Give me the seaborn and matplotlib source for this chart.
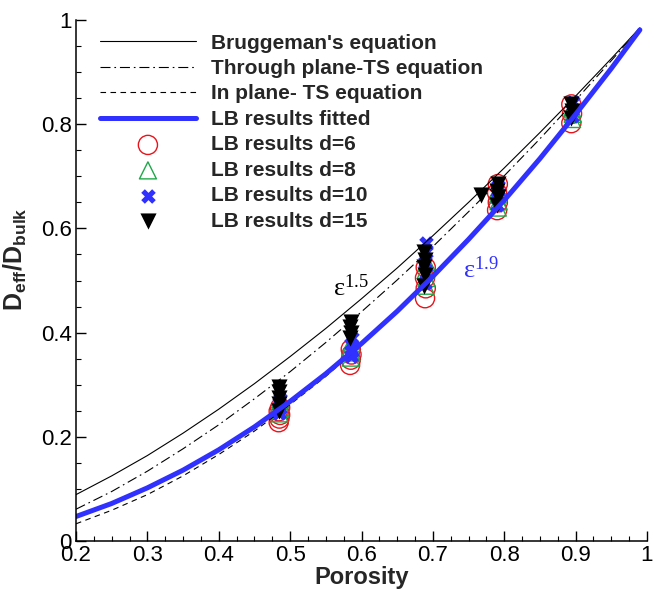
import numpy as np
import pandas as pd
import matplotlib
matplotlib.use("Agg")
import matplotlib.pyplot as plt
from matplotlib.ticker import MultipleLocator, FuncFormatter
import seaborn as sns

# DATA
porosity = [0.20, 0.25, 0.30, 0.35, 0.40, 0.45, 0.50, 0.55, 0.60,
            0.65, 0.70, 0.75, 0.80, 0.85, 0.90, 0.95, 0.99]
bruggeman = [0.089, 0.125, 0.164, 0.207, 0.253, 0.302, 0.354, 0.408, 0.465,
             0.524, 0.586, 0.650, 0.716, 0.784, 0.854, 0.926, 0.985]
through_plane = [0.061, 0.095, 0.134, 0.177, 0.223, 0.273, 0.325, 0.381, 0.440,
                 0.501, 0.565, 0.632, 0.701, 0.772, 0.846, 0.922, 0.984]
in_plane = [0.033, 0.059, 0.089, 0.125, 0.166, 0.211, 0.262, 0.316, 0.376,
            0.439, 0.507, 0.579, 0.655, 0.735, 0.820, 0.908, 0.981]
lb_fitted = [0.047, 0.072, 0.102, 0.136, 0.175, 0.219, 0.268, 0.321, 0.379,
             0.441, 0.508, 0.579, 0.654, 0.734, 0.819, 0.907, 0.981]

d6_x = [0.484, 0.485, 0.486, 0.484, 0.486,
        0.584, 0.585, 0.586, 0.585,
        0.689, 0.690, 0.689, 0.690,
        0.790, 0.791, 0.790, 0.791,
        0.894, 0.895, 0.894]
d6_y = [0.228, 0.235, 0.242, 0.249, 0.256,
        0.338, 0.348, 0.358, 0.368,
        0.466, 0.485, 0.505, 0.525,
        0.635, 0.650, 0.668, 0.685,
        0.802, 0.820, 0.838]

d8_x = [0.485, 0.486, 0.485, 0.486,
        0.585, 0.586, 0.585, 0.586,
        0.690, 0.691, 0.690, 0.691,
        0.791, 0.792, 0.791, 0.792,
        0.895, 0.896, 0.895]
d8_y = [0.245, 0.255, 0.265, 0.272,
        0.352, 0.362, 0.372, 0.380,
        0.490, 0.505, 0.520, 0.535,
        0.640, 0.652, 0.665, 0.675,
        0.810, 0.820, 0.830]

d10_x = [0.485, 0.486, 0.485, 0.486,
         0.585, 0.586, 0.585, 0.586,
         0.689, 0.690, 0.689, 0.690, 0.690,
         0.790, 0.791, 0.790, 0.791,
         0.895, 0.895, 0.896]
d10_y = [0.245, 0.255, 0.265, 0.272,
         0.355, 0.365, 0.378, 0.390,
         0.495, 0.515, 0.535, 0.555, 0.572,
         0.645, 0.660, 0.672, 0.682,
         0.815, 0.828, 0.842]

d15_x = [0.484, 0.485, 0.484, 0.485, 0.484,
         0.584, 0.585, 0.584, 0.585,
         0.688, 0.689, 0.688, 0.689, 0.688,
         0.768,
         0.790, 0.791, 0.790, 0.791,
         0.894, 0.895, 0.894]
d15_y = [0.250, 0.262, 0.274, 0.286, 0.296,
         0.390, 0.400, 0.410, 0.420,
         0.490, 0.510, 0.525, 0.540, 0.555,
         0.665,
         0.645, 0.660, 0.672, 0.685,
         0.812, 0.825, 0.838]

# STYLE
sns.set_style("ticks")
plt.rcParams["font.family"] = ["Liberation Sans", "DejaVu Sans"]
plt.rcParams["mathtext.fontset"] = "custom"
plt.rcParams["mathtext.rm"] = "Liberation Serif"
plt.rcParams["mathtext.it"] = "Liberation Serif:italic"
plt.rcParams["mathtext.bf"] = "Liberation Sans:bold"

blue = "#3030ff"

fig = plt.figure(figsize=(6.54, 5.89), dpi=100)
ax = fig.add_axes([76 / 654, 1 - 541 / 589, 571 / 654, 521 / 589])

sns.lineplot(x=porosity, y=bruggeman, color="black", lw=0.8, ax=ax,
             label="Bruggeman's equation")
sns.lineplot(x=porosity, y=through_plane, color="black", lw=0.8, ax=ax,
             linestyle=(0, (9, 3.5, 1.5, 3.5)), label="Through plane-TS equation")
sns.lineplot(x=porosity, y=in_plane, color="black", lw=0.8, ax=ax,
             linestyle=(0, (5, 4)), label="In plane- TS equation")
sns.lineplot(x=porosity, y=lb_fitted, color=blue, lw=3.6, ax=ax,
             label="LB results fitted")

sns.scatterplot(x=d6_x, y=d6_y, marker="o", s=190, facecolors="none",
                edgecolors="#e8141c", linewidth=1.0, ax=ax, label="LB results d=6")
sns.scatterplot(x=d8_x, y=d8_y, marker="^", s=150, facecolors="none",
                edgecolors="#1fa84a", linewidth=1.0, ax=ax, label="LB results d=8")
sns.scatterplot(x=d10_x, y=d10_y, marker="X", s=110, color=blue,
                linewidth=0, ax=ax, label="LB results d=10")
sns.scatterplot(x=d15_x, y=d15_y, marker="v", s=135, color="black",
                linewidth=0, ax=ax, label="LB results d=15")

ax.text(0.585, 0.486, r"$\mathrm{\varepsilon}^{\mathrm{1.5}}$", color="black",
        fontsize=19, ha="center", va="center")
ax.text(0.767, 0.52, r"$\mathrm{\varepsilon}^{\mathrm{1.9}}$", color=blue,
        fontsize=19, ha="center", va="center")

ax.set_xlim(0.2, 1.0)
ax.set_ylim(0, 1.0)
ax.xaxis.set_major_locator(MultipleLocator(0.1))
ax.xaxis.set_minor_locator(MultipleLocator(0.025))
ax.yaxis.set_major_locator(MultipleLocator(0.2))
ax.yaxis.set_minor_locator(MultipleLocator(0.05))
fmt = FuncFormatter(lambda v, p: f"{v:g}")
ax.xaxis.set_major_formatter(fmt)
ax.yaxis.set_major_formatter(fmt)
ax.tick_params(which="major", direction="in", length=7, width=1, labelsize=16,
               colors="black", pad=3)
ax.tick_params(which="minor", direction="in", length=3.5, width=0.8, colors="black")
for side in ["top", "right"]:
    ax.spines[side].set_visible(False)
for side in ["left", "bottom"]:
    ax.spines[side].set_linewidth(1.1)
    ax.spines[side].set_color("black")

ax.set_xlabel("Porosity", fontsize=17, fontweight="bold", labelpad=0)
ax.set_ylabel(r"$\mathbf{D_{eff}/D_{bulk}}$", fontsize=18, labelpad=6)
ax.yaxis.set_label_coords(-0.083, 0.54)

leg = ax.legend(loc="upper left", bbox_to_anchor=(24 / 571, 0.974), frameon=False,
                fontsize=15, handlelength=4.6, handletextpad=0.75,
                labelspacing=0.31, borderpad=0, borderaxespad=0, scatterpoints=1)
for t in leg.get_texts():
    t.set_fontweight("bold")

fig.savefig("out.png", dpi=100)
